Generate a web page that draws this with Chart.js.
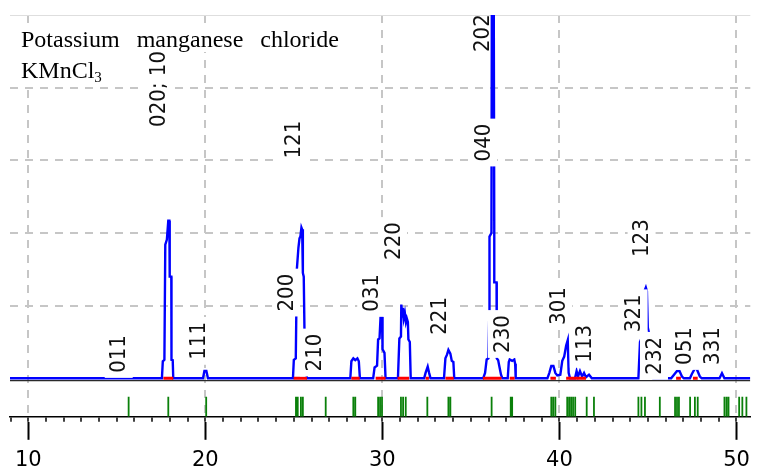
<!DOCTYPE html>
<html>
<head>
<meta charset="utf-8">
<title>KMnCl3</title>
<script src="https://cdn.jsdelivr.net/npm/chart.js@4/dist/chart.umd.min.js"></script>
<style>
  html, body { margin: 0; padding: 0; background: #fff; }
  #wrap { position: relative; width: 758px; height: 471px; }
</style>
</head>
<body>
<div id="wrap"><canvas id="chartPattern"></canvas></div>
<script>
// 2-theta window and intensity scale (relative counts)
const thetaMin = 8.97;
const thetaMax = 50.78;
const countsMin = -10.59;
const countsMax = 100;

// calculated profile, one row per peak group
const profileTheta = [
  8.97,
  17.35, 17.55, 17.60, 17.69, 17.74, 17.83, 17.91, 17.97, 17.99, 18.08, 18.09, 18.16, 18.19,
  19.87, 19.95, 20.06, 20.15,
  24.95, 25.00, 25.11, 25.17, 25.26, 25.32, 25.37, 25.43, 25.47, 25.51, 25.56, 25.60, 25.65, 25.74,
  28.19, 28.25, 28.36, 28.47, 28.59, 28.67, 28.73,
  29.48, 29.56, 29.70, 29.76, 29.84, 29.90, 29.98, 30.01, 30.12, 30.18,
  30.88, 30.96, 31.05, 31.07, 31.13, 31.16, 31.21, 31.27, 31.33, 31.38, 31.44, 31.47, 31.55, 31.60,
  32.36, 32.44, 32.56, 32.64, 32.72,
  33.48, 33.56, 33.65, 33.73, 33.84, 33.92, 34.01, 34.06,
  35.69, 35.80, 35.89, 35.99, 36.04, 36.05, 36.16, 36.20, 36.27, 36.32, 36.32, 36.45, 36.45, 36.47, 36.54, 36.62, 36.70, 36.78,
  37.08, 37.14, 37.19, 37.33, 37.45, 37.50, 37.53,
  39.32, 39.43, 39.54, 39.66, 39.77, 39.88, 40.05, 40.16, 40.27, 40.38, 40.47, 40.52, 40.60,
  40.88, 40.97, 41.05, 41.16, 41.28, 41.39, 41.50, 41.67, 41.83,
  44.46, 44.55, 44.63, 44.71, 44.80, 44.88, 44.94, 44.99, 45.08, 45.16, 45.30,
  46.31, 46.47, 46.64, 46.78, 46.92, 47.03,
  47.37, 47.48, 47.65, 47.76, 47.93, 48.04,
  49.04, 49.18, 49.32,
  50.78,
];
const profileCounts = [
  0,
  0, 0, 4.7, 5.1, 36.8, 38.2, 43.4, 43.4, 28.0, 28.0, 5.1, 5.0, 0,
  0, 2.0, 2.0, 0,
  0, 5.1, 5.5, 30, 36, 38.5, 39, 41.5, 41, 29, 28, 13.5, 5, 0,
  0, 4.7, 5.5, 5.0, 5.5, 4.7, 0,
  0, 3, 3.5, 10.7, 11, 17.1, 17, 8, 7, 0,
  0, 11, 11.5, 20.3, 17, 19.4, 16.5, 18, 15.5, 16.5, 15.5, 10.7, 10, 0,
  0, 1.5, 3.2, 1.5, 0,
  0, 5.5, 6.5, 7.8, 6.8, 4.8, 4.5, 0,
  0, 1.5, 5.2, 5.5, 18, 39, 40, 150, 150, 39, 26.4, 26.4, 18, 5.5, 5, 3, 1, 0,
  0, 4.5, 5.2, 4.8, 5.2, 4, 0,
  0, 1.5, 3.4, 3.4, 1.5, 0.8, 1, 4.8, 6, 9, 10.5, 1.5, 0,
  0, 2, 0.5, 2, 0.5, 1.5, 0.3, 1, 0,
  0, 10, 11, 12, 24, 25, 24, 14, 12, 3, 0,
  0, 1, 2, 2, 0.5, 0,
  0, 1.2, 2.7, 2.5, 0.5, 0,
  0, 1.4, 0,
  0,
];

// Bragg positions of the allowed reflections
const reflectionTheta = [
  15.67, 17.91, 20.05, 25.12, 25.22, 25.40, 25.51, 26.80, 28.36, 28.47,
  29.76, 29.87, 29.98, 31.05, 31.17, 31.32, 32.54, 33.73, 33.84, 36.17,
  37.25, 37.33, 39.54, 39.65, 39.77, 40.44, 40.55, 40.66, 40.77, 40.89,
  41.54, 41.95, 44.46, 44.63, 44.83, 45.67, 46.53, 46.64, 46.75, 47.38,
  47.65, 47.81, 49.32, 49.44, 49.55, 50.15, 50.33, 50.56,
];

// fitted ranges marked on the baseline
const rangeStart = [17.63, 24.99, 28.25, 29.62, 30.86, 32.44, 33.56, 35.68, 37.19, 39.49, 40.38, 46.59, 47.54];
const rangeEnd = [18.19, 25.74, 28.72, 30.18, 31.51, 32.63, 34.03, 36.73, 37.47, 39.80, 41.50, 46.86, 47.81];

// hkl labels: text, 2-theta and the level where the text starts
const hklText = ['011', '020; 101', '111', '121', '200', '210', '031', '220', '221', '040', '202', '230', '301', '113', '321', '123', '232', '051', '331'];
const hklTheta = [15.11, 17.35, 19.59, 24.99, 24.56, 26.13, 29.37, 30.60, 33.23, 35.69, 35.66, 36.75, 39.93, 41.38, 44.19, 44.64, 45.34, 47.06, 48.65];
const hklLevel = [1.5, 69.2, 5.1, 60.5, 18.4, 1.9, 18.3, 32.6, 12.0, 59.7, 89.8, 7.0, 14.7, 4.3, 12.7, 33.4, 1.0, 3.7, 3.7];

const titleWords = ['Potassium', 'manganese', 'chloride'];

const TICK_TOP = -5.1;
const BASE_SHADOW = -0.63;

function toPoints(xs, ys) {
  return xs.map((x, i) => ({ x, y: ys[i] }));
}

function verticalSegments(xs, top, bottom) {
  const pts = [];
  xs.forEach((x) => pts.push({ x, y: top }, { x, y: bottom }, { x, y: null }));
  return pts;
}

function baselineSegments(starts, ends) {
  const pts = [];
  starts.forEach((s, i) => pts.push({ x: s, y: 0 }, { x: ends[i], y: 0 }, { x: ends[i], y: null }));
  return pts;
}

const gridGray = '#c6c6c6';

const labelPlugin = {
  id: 'hklLabels',
  beforeDatasetsDraw(chart) {
    const { ctx, chartArea } = chart;
    ctx.save();
    ctx.strokeStyle = '#dedede';
    ctx.lineWidth = 1;
    ctx.beginPath();
    ctx.moveTo(chartArea.left, chartArea.top + 0.5);
    ctx.lineTo(chartArea.right, chartArea.top + 0.5);
    ctx.stroke();
    ctx.restore();
  },
  afterDatasetsDraw(chart) {
    const { ctx, scales } = chart;
    ctx.save();
    ctx.font = '22px "DejaVu Sans"';
    ctx.textBaseline = 'middle';
    ctx.textAlign = 'left';
    hklText.forEach((text, i) => {
      const px = scales.x.getPixelForValue(hklTheta[i]);
      const py = scales.y.getPixelForValue(hklLevel[i]);
      const w = ctx.measureText(text).width * 0.9;
      ctx.save();
      ctx.translate(px, py);
      ctx.rotate(-Math.PI / 2);
      if (text !== '202') {
        ctx.fillStyle = '#fff';
        ctx.fillRect(-5, -14, w + 10, 28);
      }
      ctx.scale(0.9, 1);
      ctx.fillStyle = '#111';
      ctx.fillText(text, 0, 1);
      ctx.restore();
    });

    // compound name, each line on its own white strip
    ctx.fillStyle = '#fff';
    ctx.fillRect(18, 27, 328, 25);
    ctx.fillRect(18, 52, 94, 33);
    ctx.fillStyle = '#000';
    ctx.textBaseline = 'alphabetic';
    ctx.font = '24px "Liberation Serif"';
    let x = 21;
    titleWords.forEach((word) => {
      ctx.fillText(word, x, 47);
      x += ctx.measureText(word).width + 17;
    });
    ctx.fillText('KMnCl', 21, 78);
    const kw = ctx.measureText('KMnCl').width;
    ctx.font = '15px "Liberation Serif"';
    ctx.fillText('3', 21 + kw, 82);
    ctx.restore();
  },
};

Chart.defaults.font.family = '"DejaVu Sans", sans-serif';

new Chart(document.getElementById('chartPattern'), {
  type: 'line',
  data: {
    datasets: [
      {
        data: [{ x: thetaMin, y: BASE_SHADOW }, { x: thetaMax, y: BASE_SHADOW }],
        borderColor: '#2a2a2a',
        borderWidth: 1.4,
        pointRadius: 0,
        order: 4,
      },
      {
        data: toPoints(profileTheta, profileCounts),
        borderColor: '#0000ff',
        borderWidth: 2.4,
        pointRadius: 0,
        tension: 0,
        order: 3,
      },
      {
        data: verticalSegments(reflectionTheta, TICK_TOP, countsMin),
        borderColor: '#0a800a',
        borderWidth: 1.8,
        pointRadius: 0,
        spanGaps: false,
        order: 2,
      },
      {
        data: baselineSegments(rangeStart, rangeEnd),
        borderColor: '#ff0000',
        borderWidth: 3,
        pointRadius: 0,
        spanGaps: false,
        order: 1,
      },
    ],
  },
  options: {
    responsive: true,
    maintainAspectRatio: false,
    animation: false,
    devicePixelRatio: 1,
    layout: { padding: { top: 15, left: 10, right: 0, bottom: -10 } },
    plugins: { legend: { display: false }, tooltip: { enabled: false } },
    scales: {
      x: {
        type: 'linear',
        position: 'bottom',
        weight: 0,
        min: thetaMin,
        max: thetaMax,
        ticks: { display: false, stepSize: 1, includeBounds: false, autoSkip: false },
        grid: {
          color: (c) => (c.tick && c.tick.value % 10 === 0 ? gridGray : 'rgba(0,0,0,0)'),
          lineWidth: 2,
          tickLength: 5,
          tickWidth: 1.5,
          tickColor: '#000',
        },
        border: { display: true, color: '#000', width: 1.5, dash: [8, 7] },
      },
      x2: {
        type: 'linear',
        position: 'bottom',
        weight: 1,
        min: thetaMin,
        max: thetaMax,
        ticks: {
          stepSize: 10,
          includeBounds: false,
          color: '#000',
          padding: 8,
          font: { size: 21 },
          callback: (v) => String(v),
        },
        grid: { drawOnChartArea: false, tickLength: 18, tickWidth: 2, tickColor: '#000', color: '#000' },
        border: { display: false },
      },
      y: {
        min: countsMin,
        max: countsMax,
        ticks: { display: false, stepSize: 20 },
        grid: {
          color: (c) => (c.tick && [20, 40, 60, 80].includes(c.tick.value) ? gridGray : 'rgba(0,0,0,0)'),
          lineWidth: 2,
          drawTicks: false,
        },
        border: { display: false, dash: [8, 7] },
      },
    },
  },
  plugins: [labelPlugin],
});
</script>
</body>
</html>
